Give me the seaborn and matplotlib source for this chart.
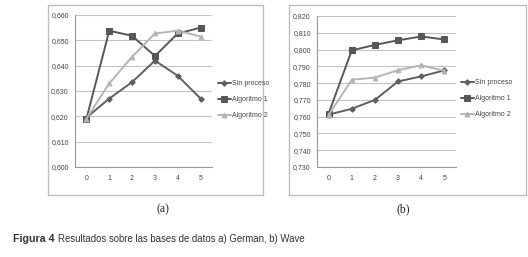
import numpy as np
import pandas as pd
import seaborn as sns
import matplotlib.pyplot as plt
from matplotlib.patches import Rectangle
from matplotlib.ticker import FuncFormatter, FixedLocator

# Data
steps = [0, 1, 2, 3, 4, 5]
series = ["Sin proceso", "Algoritmo 1", "Algoritmo 2"]

german_sin = [0.6195, 0.627, 0.6335, 0.642, 0.636, 0.627]
german_alg1 = [0.619, 0.6538, 0.6518, 0.6438, 0.6527, 0.655]
german_alg2 = [0.619, 0.633, 0.6435, 0.6527, 0.6538, 0.6515]

wave_sin = [0.7612, 0.7647, 0.770, 0.781, 0.784, 0.7876]
wave_alg1 = [0.7618, 0.7995, 0.8028, 0.8055, 0.8078, 0.806]
wave_alg2 = [0.761, 0.782, 0.7833, 0.7877, 0.7906, 0.7873]

german_ticks = [0.600, 0.610, 0.620, 0.630, 0.640, 0.650, 0.660]
wave_ticks = [0.730, 0.740, 0.750, 0.760, 0.770, 0.780, 0.790, 0.800, 0.810, 0.820]

colors = {"Sin proceso": "#5f5f5f", "Algoritmo 1": "#575757", "Algoritmo 2": "#b4b4b4"}
markers = {"Sin proceso": "D", "Algoritmo 1": "s", "Algoritmo 2": "^"}
msizes = {"Sin proceso": 2.8, "Algoritmo 1": 4.5, "Algoritmo 2": 3.5}

sns.set_style("white")
plt.rcParams['font.family'] = ['Liberation Sans', 'DejaVu Sans']

fig = plt.figure(figsize=(5.28, 2.57), dpi=100)
W, H = 528, 257


def px_axes(x0, y0, x1, y1):
    return fig.add_axes([x0 / W, 1 - y1 / H, (x1 - x0) / W, (y1 - y0) / H])


def draw(ax, vals, ticks, legend_x, legend_y):
    df = pd.DataFrame({
        "step": steps * 3,
        "value": vals[0] + vals[1] + vals[2],
        "serie": [s for s in series for _ in steps],
    })
    for s in series:
        sub = df[df["serie"] == s]
        sns.lineplot(data=sub, x="step", y="value", ax=ax, color=colors[s],
                     marker=markers[s], markersize=msizes[s], linewidth=1.4,
                     markeredgecolor=colors[s], label=s, legend=False)
    ax.set_xlim(-0.5, 5.5)
    ax.set_ylim(ticks[0], ticks[-1])
    ax.set_yticks(ticks)
    ax.yaxis.set_major_formatter(FuncFormatter(lambda v, p: f"{v:.3f}".replace(".", ",")))
    ax.set_xticks(steps)
    ax.xaxis.set_minor_locator(FixedLocator(np.arange(-0.5, 6, 1)))
    ax.tick_params(axis="x", which="major", length=0, labelsize=5, colors="#444444", pad=6)
    ax.tick_params(axis="x", which="minor", length=2.5, color="#999999", width=0.6)
    ax.tick_params(axis="y", length=2.5, color="#999999", width=0.6, labelsize=5,
                   colors="#444444", pad=2)
    ax.grid(axis="y", color="#c4c4c4", linewidth=0.8)
    ax.set_axisbelow(True)
    for side in ["top", "right"]:
        ax.spines[side].set_visible(False)
    for side in ["left", "bottom"]:
        ax.spines[side].set_color("#999999")
        ax.spines[side].set_linewidth(0.8)
    ax.set_xlabel("")
    ax.set_ylabel("")
    handles, labels = ax.get_legend_handles_labels()
    fig.legend(handles, labels, loc="upper left",
               bbox_to_anchor=(legend_x / W, 1 - legend_y / H), frameon=False,
               fontsize=5, handlelength=1.8, handletextpad=0.2,
               labelspacing=1.3, borderaxespad=0, borderpad=0, labelcolor="#444444")


ax1 = px_axes(75, 15, 212, 167)
draw(ax1, [german_sin, german_alg1, german_alg2], german_ticks, 218, 80)

ax2 = px_axes(317, 16, 456, 167)
draw(ax2, [wave_sin, wave_alg1, wave_alg2], wave_ticks, 461, 79)

# chart frames
for x0, x1 in [(48, 263), (289, 526)]:
    fig.patches.append(Rectangle((x0 / W, 1 - 195 / H), (x1 - x0) / W, 190 / H,
                                 transform=fig.transFigure, fill=False,
                                 edgecolor="#bdbdbd", linewidth=1.0))

fig.text(163 / W, 1 - 209 / H, "(a)", ha="center", va="center",
         family="Liberation Serif", fontsize=8.5, color="#222222")
fig.text(403 / W, 1 - 209 / H, "(b)", ha="center", va="center",
         family="Liberation Serif", fontsize=8.5, color="#222222")

fig.text(13 / W, 1 - 242 / H, "Figura 4", ha="left", va="baseline",
         fontsize=7.7, fontweight="bold", color="#333333")
fig.text(58 / W, 1 - 242 / H, "Resultados sobre las bases de datos a) German, b) Wave",
         ha="left", va="baseline", fontsize=6.9, color="#333333")

fig.savefig("out.png", dpi=100)
